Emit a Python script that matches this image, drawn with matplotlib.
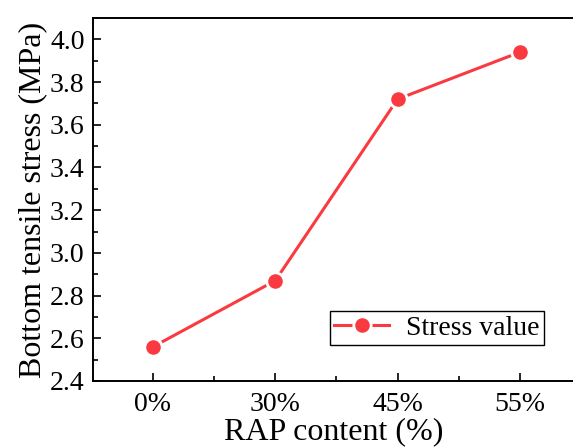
import matplotlib.pyplot as plt
from matplotlib.ticker import MultipleLocator, AutoMinorLocator

categories = ['0%', '30%', '45%', '55%']
stress = [2.56, 2.87, 3.72, 3.94]

plt.rcParams['font.family'] = 'Liberation Serif'

fig = plt.figure(figsize=(5.73, 4.47), dpi=100)
ax = fig.add_axes([93 / 573, 66 / 447, 482 / 573, 363 / 447])

x = list(range(len(categories)))
ax.plot(x, stress, color='#F93A40', lw=2.2, marker='o', ms=12.5,
        markeredgecolor='white', markeredgewidth=2.0, label='Stress value')

ax.set_xlim(-0.49, 3.45)
ax.set_ylim(2.4, 4.1)
ax.set_xticks(x)
ax.set_xticklabels(categories)
ax.xaxis.set_minor_locator(MultipleLocator(0.5))
ax.yaxis.set_major_locator(MultipleLocator(0.2))
ax.yaxis.set_minor_locator(AutoMinorLocator(2))

ax.tick_params(which='both', direction='in', labelsize=20, width=1.2)
ax.tick_params(which='major', length=6)
ax.tick_params(which='minor', length=3.5)
ax.tick_params(axis='x', pad=8)
ax.tick_params(axis='y', pad=6)
ax.yaxis.set_major_formatter(plt.FuncFormatter(lambda v, p: f'{v:.1f}'))

for s in ax.spines.values():
    s.set_linewidth(1.4)
ax.spines['right'].set_visible(False)

ax.set_xlabel('RAP content (%)', fontsize=23, labelpad=0)
ax.set_ylabel('Bottom tensile stress (MPa)', fontsize=23, labelpad=2)

ax.legend(loc='lower right', bbox_to_anchor=(0.935, 0.1), fontsize=20,
          fancybox=False, edgecolor='black', framealpha=1,
          handlelength=2.0, borderpad=0.15, handletextpad=0.6,
          borderaxespad=0.0)

fig.savefig('out.png', dpi=100)
